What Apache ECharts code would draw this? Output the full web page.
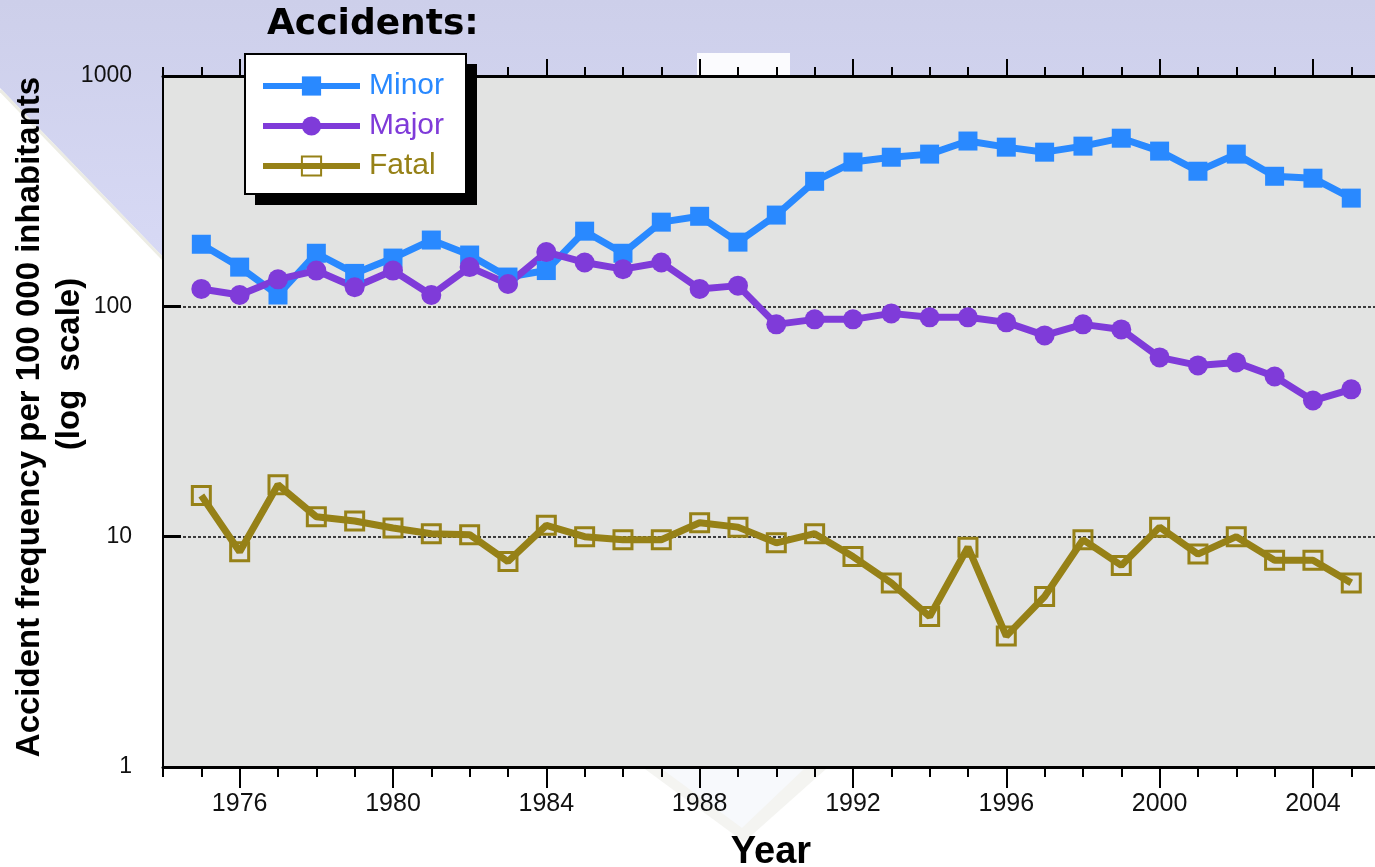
<!DOCTYPE html>
<html>
<head>
<meta charset="utf-8">
<title>Accidents</title>
<script src="https://cdn.jsdelivr.net/npm/echarts@6/dist/echarts.min.js"></script>
<style>
  html, body { margin: 0; padding: 0; background: #ffffff; }
  #chart { width: 1375px; height: 867px; }
</style>
</head>
<body>
<div id="chart"></div>
<script>
// Accident frequency per 100 000 inhabitants, by year
const years = [1975, 1976, 1977, 1978, 1979, 1980, 1981, 1982, 1983, 1984,
               1985, 1986, 1987, 1988, 1989, 1990, 1991, 1992, 1993, 1994,
               1995, 1996, 1997, 1998, 1999, 2000, 2001, 2002, 2003, 2004, 2005];
const minor = [186, 148, 112, 170, 139, 162, 194, 167, 134, 143,
               212, 170, 232, 246, 190, 249, 349, 423, 444, 458,
               522, 491, 467, 496, 537, 472, 386, 458, 367, 360, 295];
const major = [119, 112, 131, 143, 121, 143, 112, 148, 125, 172,
               155, 145, 155, 119, 123, 83.5, 87.8, 87.8, 93.2, 89.6,
               89.6, 85.2, 74.8, 83.5, 79.4, 60, 55.4, 57.1, 49.6, 39, 43.6];
const fatal = [15.1, 8.6, 16.8, 12.2, 11.7, 10.9, 10.3, 10.2, 7.8, 11.2,
               10, 9.7, 9.7, 11.5, 11.0, 9.4, 10.3, 8.2, 6.3, 4.5,
               9.0, 3.7, 5.5, 9.7, 7.5, 11.0, 8.4, 10, 7.9, 7.9, 6.3];
const labelYears = [1976, 1980, 1984, 1988, 1992, 1996, 2000, 2004];
const yTicks = [1, 10, 100, 1000];

const COLORS = { minor: '#2989ff', major: '#7f3bd9', fatal: '#968117' };
const FONT = '"Liberation Sans", Arial, Helvetica, sans-serif';

const pairs = arr => years.map((y, i) => [y, arr[i]]);

const chart = echarts.init(document.getElementById('chart'), null, { renderer: 'canvas' });

const xBase = {
  type: 'value', min: 1974, max: 2006, interval: 1, gridIndex: 0,
  splitLine: { show: false }
};
const black = { color: '#000' };

// Legend frame: white box with a solid drop shadow
const legendBox = { x: 245, y: 54, w: 221, h: 140 };

chart.setOption({
  animation: false,
  backgroundColor: '#ffffff',
  grid: {
    left: 163, top: 76, width: 1226.6, height: 691,
    show: true, backgroundColor: '#e2e3e2', borderWidth: 0,
    containLabel: false, outerBoundsMode: 'none'
  },
  xAxis: [
    { ...xBase, position: 'bottom',
      axisLine: { show: true, lineStyle: { ...black, width: 3 } },
      axisTick: { show: true, length: 10, lineStyle: { ...black, width: 2 } },
      axisLabel: { customValues: labelYears, formatter: v => String(v),
                   fontSize: 25, fontFamily: FONT, color: '#111', margin: 25 } },
    { ...xBase, position: 'bottom',
      axisLine: { show: false },
      axisTick: { show: true, customValues: labelYears, length: 21, lineStyle: { ...black, width: 2 } },
      axisLabel: { show: false } },
    { ...xBase, position: 'top',
      axisLine: { show: true, lineStyle: { ...black, width: 3 } },
      axisTick: { show: true, length: 9, lineStyle: { ...black, width: 2 } },
      axisLabel: { show: false } },
    { ...xBase, position: 'top',
      axisLine: { show: false },
      axisTick: { show: true, customValues: labelYears, length: 17, lineStyle: { ...black, width: 2 } },
      axisLabel: { show: false } }
  ],
  yAxis: {
    type: 'log', logBase: 10, min: 1, max: 1000,
    axisLine: { show: true, lineStyle: { ...black, width: 2 } },
    axisTick: { show: true, inside: true, length: 18, lineStyle: { ...black, width: 3 } },
    axisLabel: { customValues: yTicks, formatter: v => String(Math.round(v)),
                 fontSize: 23, fontFamily: FONT, color: '#111', margin: 31 },
    splitLine: { show: true, lineStyle: { color: '#3c3c3c', width: 2, type: [3, 2] } }
  },
  legend: {
    orient: 'vertical', left: 243, top: 54, z: 10,
    padding: [17, 20, 13, 17],
    itemWidth: 97, itemHeight: 24, itemGap: 10,
    backgroundColor: 'transparent', borderWidth: 0,
    selectedMode: false,
    lineStyle: { width: 6 },
    textStyle: { fontSize: 30, lineHeight: 30, fontFamily: FONT, padding: [0, 0, 0, 4] },
    data: [
      { name: 'Minor', textStyle: { color: COLORS.minor } },
      { name: 'Major', textStyle: { color: COLORS.major } },
      { name: 'Fatal', textStyle: { color: COLORS.fatal } }
    ]
  },
  graphic: [
    { type: 'polygon', z: -10, silent: true,
      shape: { points: [[0, 0], [1375, 0], [1375, 76], [163, 76], [163, 257], [0, 88]] },
      style: { fill: new echarts.graphic.LinearGradient(0, 0, 0, 1, [
        { offset: 0, color: '#cdcfea' }, { offset: 1, color: '#d7d9f5' }]) } },
    { type: 'line', z: -9, silent: true,
      shape: { x1: 0, y1: 90, x2: 163, y2: 259 },
      style: { stroke: '#ecece4', lineWidth: 3 } },
    { type: 'rect', z: -9, silent: true,
      shape: { x: 697, y: 53, width: 93, height: 23 },
      style: { fill: '#fbfbfe' } },
    { type: 'polygon', z: -9, silent: true,
      shape: { points: [[645, 769], [826, 769], [744, 842]] },
      style: { fill: '#f4f4f1' } },
    { type: 'polygon', z: -8, silent: true,
      shape: { points: [[662, 769], [804, 769], [742, 828]] },
      style: { fill: '#f7f9fc' } },
    { type: 'rect', z: 8, silent: true,
      shape: { x: legendBox.x + 10, y: legendBox.y + 10, width: legendBox.w + 1, height: legendBox.h + 1 },
      style: { fill: '#000' } },
    { type: 'rect', z: 9, silent: true,
      shape: { x: legendBox.x, y: legendBox.y, width: legendBox.w, height: legendBox.h },
      style: { fill: '#ffffff', stroke: '#000', lineWidth: 2 } },
    { type: 'text', x: 267, y: 25, silent: true,
      style: { text: 'Accidents:', fontSize: 36, fontWeight: 'bold',
               fontFamily: '"DejaVu Sans", sans-serif', fill: '#000',
               align: 'left', verticalAlign: 'middle' } },
    { type: 'text', x: 30, y: 417, rotation: Math.PI / 2, silent: true,
      style: { text: 'Accident frequency per 100 000 inhabitants', fontSize: 33, fontWeight: 'bold',
               fontFamily: FONT, fill: '#000', align: 'center', verticalAlign: 'middle' } },
    { type: 'text', x: 70, y: 364, rotation: Math.PI / 2, silent: true,
      style: { text: '(log  scale)', fontSize: 33, fontWeight: 'bold',
               fontFamily: FONT, fill: '#000', align: 'center', verticalAlign: 'middle' } },
    { type: 'text', x: 771, y: 853, silent: true,
      style: { text: 'Year', fontSize: 38, fontWeight: 'bold',
               fontFamily: FONT, fill: '#000', align: 'center', verticalAlign: 'middle' } }
  ],
  series: [
    { name: 'Minor', type: 'line', data: pairs(minor),
      symbol: 'rect', symbolSize: 19, showAllSymbol: true,
      lineStyle: { width: 7, color: COLORS.minor },
      itemStyle: { color: COLORS.minor } },
    { name: 'Major', type: 'line', data: pairs(major),
      symbol: 'circle', symbolSize: 20, showAllSymbol: true,
      lineStyle: { width: 7, color: COLORS.major },
      itemStyle: { color: COLORS.major } },
    { name: 'Fatal', type: 'line', data: pairs(fatal),
      symbol: 'rect', symbolSize: 18, showAllSymbol: true,
      lineStyle: { width: 7, color: COLORS.fatal },
      itemStyle: { color: 'rgba(0,0,0,0)', borderColor: COLORS.fatal, borderWidth: 3 } }
  ]
});
</script>
</body>
</html>
